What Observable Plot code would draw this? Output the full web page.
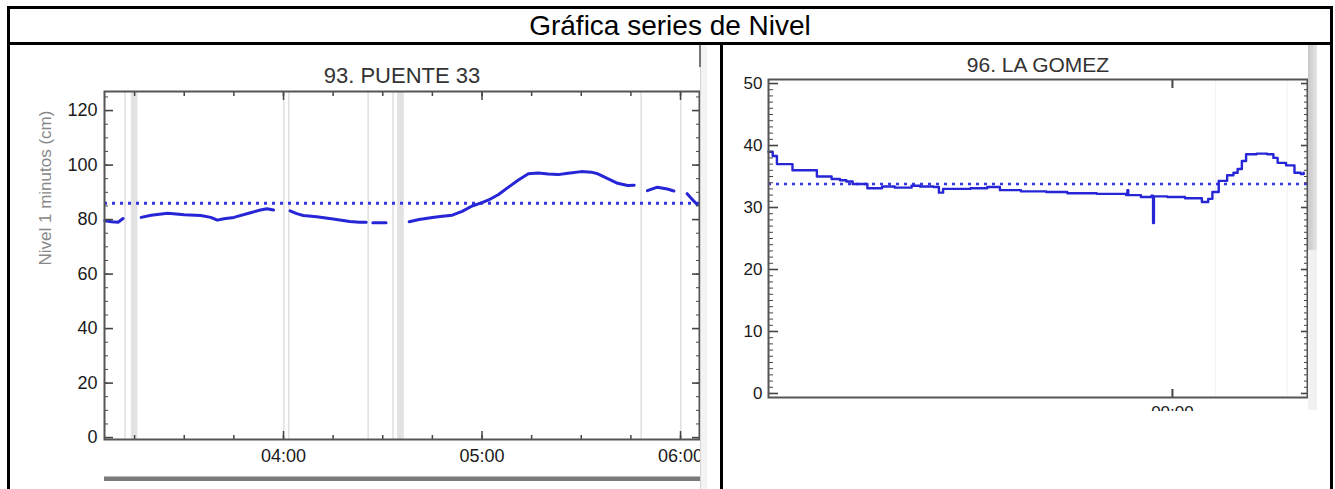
<!DOCTYPE html>
<html><head><meta charset="utf-8">
<script src="https://cdn.jsdelivr.net/npm/d3@7"></script>
<script src="https://cdn.jsdelivr.net/npm/@observablehq/plot@0.6"></script>
<style>
body{margin:0;background:#fff;width:1335px;height:489px;overflow:hidden;position:relative;font-family:"Liberation Sans",Arial,Helvetica,sans-serif;}
.abs{position:absolute;}
svg{font-family:"Liberation Sans",Arial,Helvetica,sans-serif;}
</style></head><body>
<div class="abs" style="left:7px;top:6px;width:1326px;height:600px;border:3px solid #000;box-sizing:border-box;"></div>
<div class="abs" style="left:10px;top:9px;width:1320px;height:33px;line-height:34px;text-align:center;font-size:28px;color:#000;">Gráfica series de Nivel</div>
<div class="abs" style="left:7px;top:42px;width:1326px;height:3px;background:#000"></div>
<div class="abs" style="left:720px;top:45px;width:3px;height:500px;background:#000"></div>
<div class="abs" id="left" style="left:10px;top:45px;"></div>
<div class="abs" id="right" style="left:723px;top:45px;"></div>
<div class="abs" style="left:700px;top:45px;width:6px;height:445px;background:#f3f3f3;border-left:1px solid #d4d4d4;"></div>
<div class="abs" style="left:699px;top:45px;width:2px;height:22px;background:#777"></div>
<div class="abs" style="left:104px;top:476px;width:596px;height:4px;background:#7a7a7a;border-top:1px solid #bbb;"></div>
<div class="abs" style="left:1308px;top:45px;width:9px;height:205px;background:linear-gradient(to right,#c8c8c8,#e6e6e6);"></div>
<div class="abs" style="left:1308px;top:250px;width:9px;height:160px;background:#f1f1f1;"></div>
<script>
// ---------- data: 93. PUENTE 33 ----------
const leftTitle = "93. PUENTE 33";
const leftYLabel = "Nivel 1 minutos (cm)";
const leftTimes = ["03:06","03:08","03:10","03:11:30","03:13",
  "03:17","03:20","03:25","03:30","03:35","03:38","03:40","03:42","03:45","03:50","03:53","03:55","03:57","03:59",
  "04:02","04:04","04:06","04:10","04:15","04:20","04:23","04:25","04:26",
  "04:27","04:31","04:33",
  "04:38","04:41","04:45","04:48","04:51","04:54","04:57","05:00","05:02","05:05","05:08","05:11","05:14","05:17","05:20","05:23","05:26","05:30","05:33","05:35","05:38","05:41","05:44","05:46","05:48",
  "05:50","05:53","05:56","05:58","06:00",
  "06:02","06:03:30","06:05"];
const leftValues = [79.6,79.2,79.0,80.4,null,
  80.8,81.6,82.3,81.8,81.5,80.8,79.8,80.3,80.8,82.5,83.5,84.0,83.5,null,
  83.2,82.2,81.5,81.0,80.2,79.3,79.0,79.0,null,
  78.8,78.8,null,
  79.2,80.0,80.8,81.2,81.6,83.0,85.0,86.2,87.2,89.2,91.9,94.5,96.8,97.1,96.7,96.5,97.0,97.6,97.4,96.8,95.0,93.3,92.5,92.6,null,
  90.6,91.9,91.2,90.5,null,
  89.5,87.5,85.5];
const leftReference = 86;
const leftGapStart = ["03:12","03:14","04:00","04:01:30","04:25:30","04:33","04:34:30","05:48","06:00"];
const leftGapEnd   = ["03:12:30","03:16","04:00:30","04:02","04:26","04:33:30","04:36:30","05:48:30","06:00:30"];
const leftYTicks = [0,20,40,60,80,100,120];
const leftXTickLabels = ["04:00","05:00","06:00"];

// ---------- data: 96. LA GOMEZ ----------
const rightTitle = "96. LA GOMEZ";
const rightTimes = ["01T08:00","01T08:10","01T08:20","01T08:50","01T08:57","01T09:45","01T09:55","01T10:15","01T10:30","01T10:50",
  "01T11:05","01T11:20","01T11:55","01T12:30","01T13:00","01T13:40","01T14:00","01T14:32","01T14:45","01T14:55",
  "01T16:00","01T16:40","01T17:10","01T18:00","01T19:00","01T19:50","01T21:00","01T22:10","01T22:13","01T22:15",
  "01T22:45","01T23:10","01T23:14","01T23:16","01T23:48","02T00:30","02T01:10","02T01:25","02T01:35","02T01:50",
  "02T02:10","02T02:25","02T02:35","02T02:45","02T02:55","02T03:20","02T03:45","02T04:00","02T04:10","02T04:30",
  "02T04:50","02T05:05","02T05:12"];
const rightValues = [39.0,38.3,37.0,37.0,36.0,36.0,35.0,35.0,34.6,34.4,
  34.2,33.8,33.1,33.4,33.2,33.5,33.4,33.3,32.4,33.0,
  33.1,33.3,32.8,32.6,32.5,32.3,32.2,32.0,32.8,32.0,
  31.7,31.9,27.5,31.8,31.7,31.5,30.9,31.4,32.5,34.3,
  35.2,35.6,36.2,37.5,38.6,38.7,38.6,38.0,37.2,36.8,
  35.6,35.4,35.6];
const rightReference = 33.8;
const rightGapStart = ["02T01:42","02T04:33"];
const rightGapEnd   = ["02T01:44","02T04:35"];
const rightYTicks = [0,10,20,30,40,50];
const rightXTickLabels = ["02T00:00"];

// ---------- helpers ----------
const dL = s => new Date(`2023-01-01T${s}Z`);
const dR = s => new Date(`2023-01-${s}Z`);
const fmt = d3.utcFormat("%H:%M");
const blue = "#2626d6", dotBlue = "#3434e2", axisCol = "#444";
const noText = () => "";
// inward ticks: outward tick shifted inside the frame by its own length
const inY = (anchor, ticks, size, sw = 1) => Plot.axisY({anchor, ticks, tickSize: size, dx: anchor === "left" ? size : -size, tickFormat: noText, stroke: axisCol, strokeWidth: sw, label: null});
const inX = (anchor, ticks, size, sw = 1.5) => Plot.axisX({anchor, ticks, tickSize: size, dy: anchor === "bottom" ? -size : size, tickFormat: noText, stroke: axisCol, strokeWidth: sw, label: null});

// ---------- left chart ----------
const leftData = leftTimes.map((t, i) => ({t: dL(t), v: leftValues[i]}));
const leftGaps = leftGapStart.map((s, i) => ({a: dL(s), b: dL(leftGapEnd[i])}));
const lx0 = dL("03:05:54"), lx1 = dL("06:05:44");
const lHours = leftXTickLabels.map(dL);
const lQuarters = d3.utcMinute.every(15).range(lx0, lx1);
const lMinorY = d3.range(0, 126, 5);

const leftPlot = Plot.plot({
  width: 690, height: 431,
  marginLeft: 94, marginRight: 1, marginTop: 46, marginBottom: 37,
  style: {fontFamily: "Liberation Sans, Arial, sans-serif", background: "transparent"},
  x: {type: "utc", domain: [lx0, lx1]},
  y: {domain: [-0.7, 127]},
  marks: [
    Plot.rect(leftGaps, {x1: "a", x2: "b", fill: "#e2e2e2"}),
    Plot.ruleY([leftReference], {stroke: dotBlue, strokeWidth: 3, strokeDasharray: "3,5"}),
    Plot.line(leftData, {x: "t", y: "v", stroke: blue, strokeWidth: 3}),
    inY("left", lMinorY, 4),
    inY("left", leftYTicks, 9, 1.6),
    Plot.axisY({anchor: "left", ticks: leftYTicks, tickSize: 0, tickPadding: 7, fontSize: 18, fill: "#1a1a1a", label: null}),
    inY("right", lMinorY, 4),
    inY("right", leftYTicks, 8, 1.6),
    inX("top", lQuarters, 4),
    inX("top", lHours, 8),
    inX("bottom", lQuarters, 4),
    inX("bottom", lHours, 8),
    Plot.axisX({anchor: "bottom", ticks: lHours, tickSize: 0, tickPadding: 10, tickFormat: fmt, fontSize: 18, fill: "#1a1a1a", label: null}),
    Plot.frame({stroke: "#555", strokeWidth: 2}),
    Plot.text([leftTitle], {frameAnchor: "top", dy: -9, lineAnchor: "bottom", fontSize: 22, fill: "#333"}),
    Plot.text([leftYLabel], {frameAnchor: "left", dx: -59, rotate: -90, fontSize: 17, fill: "#888"})
  ]
});
document.getElementById("left").appendChild(leftPlot);

// ---------- right chart ----------
const rightData = rightTimes.map((t, i) => ({t: dR(t), v: rightValues[i]}));
const rightGaps = rightGapStart.map((s, i) => ({a: dR(s), b: dR(rightGapEnd[i])}));
const rx0 = dR("01T08:00"), rx1 = dR("02T05:21");
const rMajorX = rightXTickLabels.map(dR);
const rMinorY = d3.range(0, 51, 1);

const rightPlot = Plot.plot({
  width: 585, height: 366,
  marginLeft: 45, marginRight: 1, marginTop: 34, marginBottom: 14,
  style: {fontFamily: "Liberation Sans, Arial, sans-serif", background: "transparent"},
  x: {type: "utc", domain: [rx0, rx1]},
  y: {domain: [-0.65, 50.65]},
  marks: [
    Plot.rect(rightGaps, {x1: "a", x2: "b", fill: "#f0f0f0"}),
    Plot.ruleY([rightReference], {stroke: dotBlue, strokeWidth: 2.5, strokeDasharray: "3,5"}),
    Plot.line(rightData, {x: "t", y: "v", stroke: blue, strokeWidth: 2.4, curve: "step-after"}),
    inY("left", rMinorY, 5),
    inY("left", rightYTicks, 10, 1.6),
    Plot.axisY({anchor: "left", ticks: rightYTicks, tickSize: 0, tickPadding: 6, fontSize: 17, fill: "#1a1a1a", label: null}),
    inY("right", rMinorY, 4),
    inY("right", rightYTicks, 7, 1.6),
    inX("top", rMajorX, 8, 2),
    inX("bottom", rMajorX, 8, 2),
    Plot.axisX({anchor: "bottom", ticks: rMajorX, tickSize: 0, tickPadding: 8, tickFormat: fmt, fontSize: 17, fill: "#1a1a1a", label: null}),
    Plot.frame({stroke: "#555", strokeWidth: 2}),
    Plot.text([rightTitle], {frameAnchor: "top", dy: -8, lineAnchor: "bottom", fontSize: 21, fill: "#333"})
  ]
});
document.getElementById("right").appendChild(rightPlot);
</script>
</body></html>
